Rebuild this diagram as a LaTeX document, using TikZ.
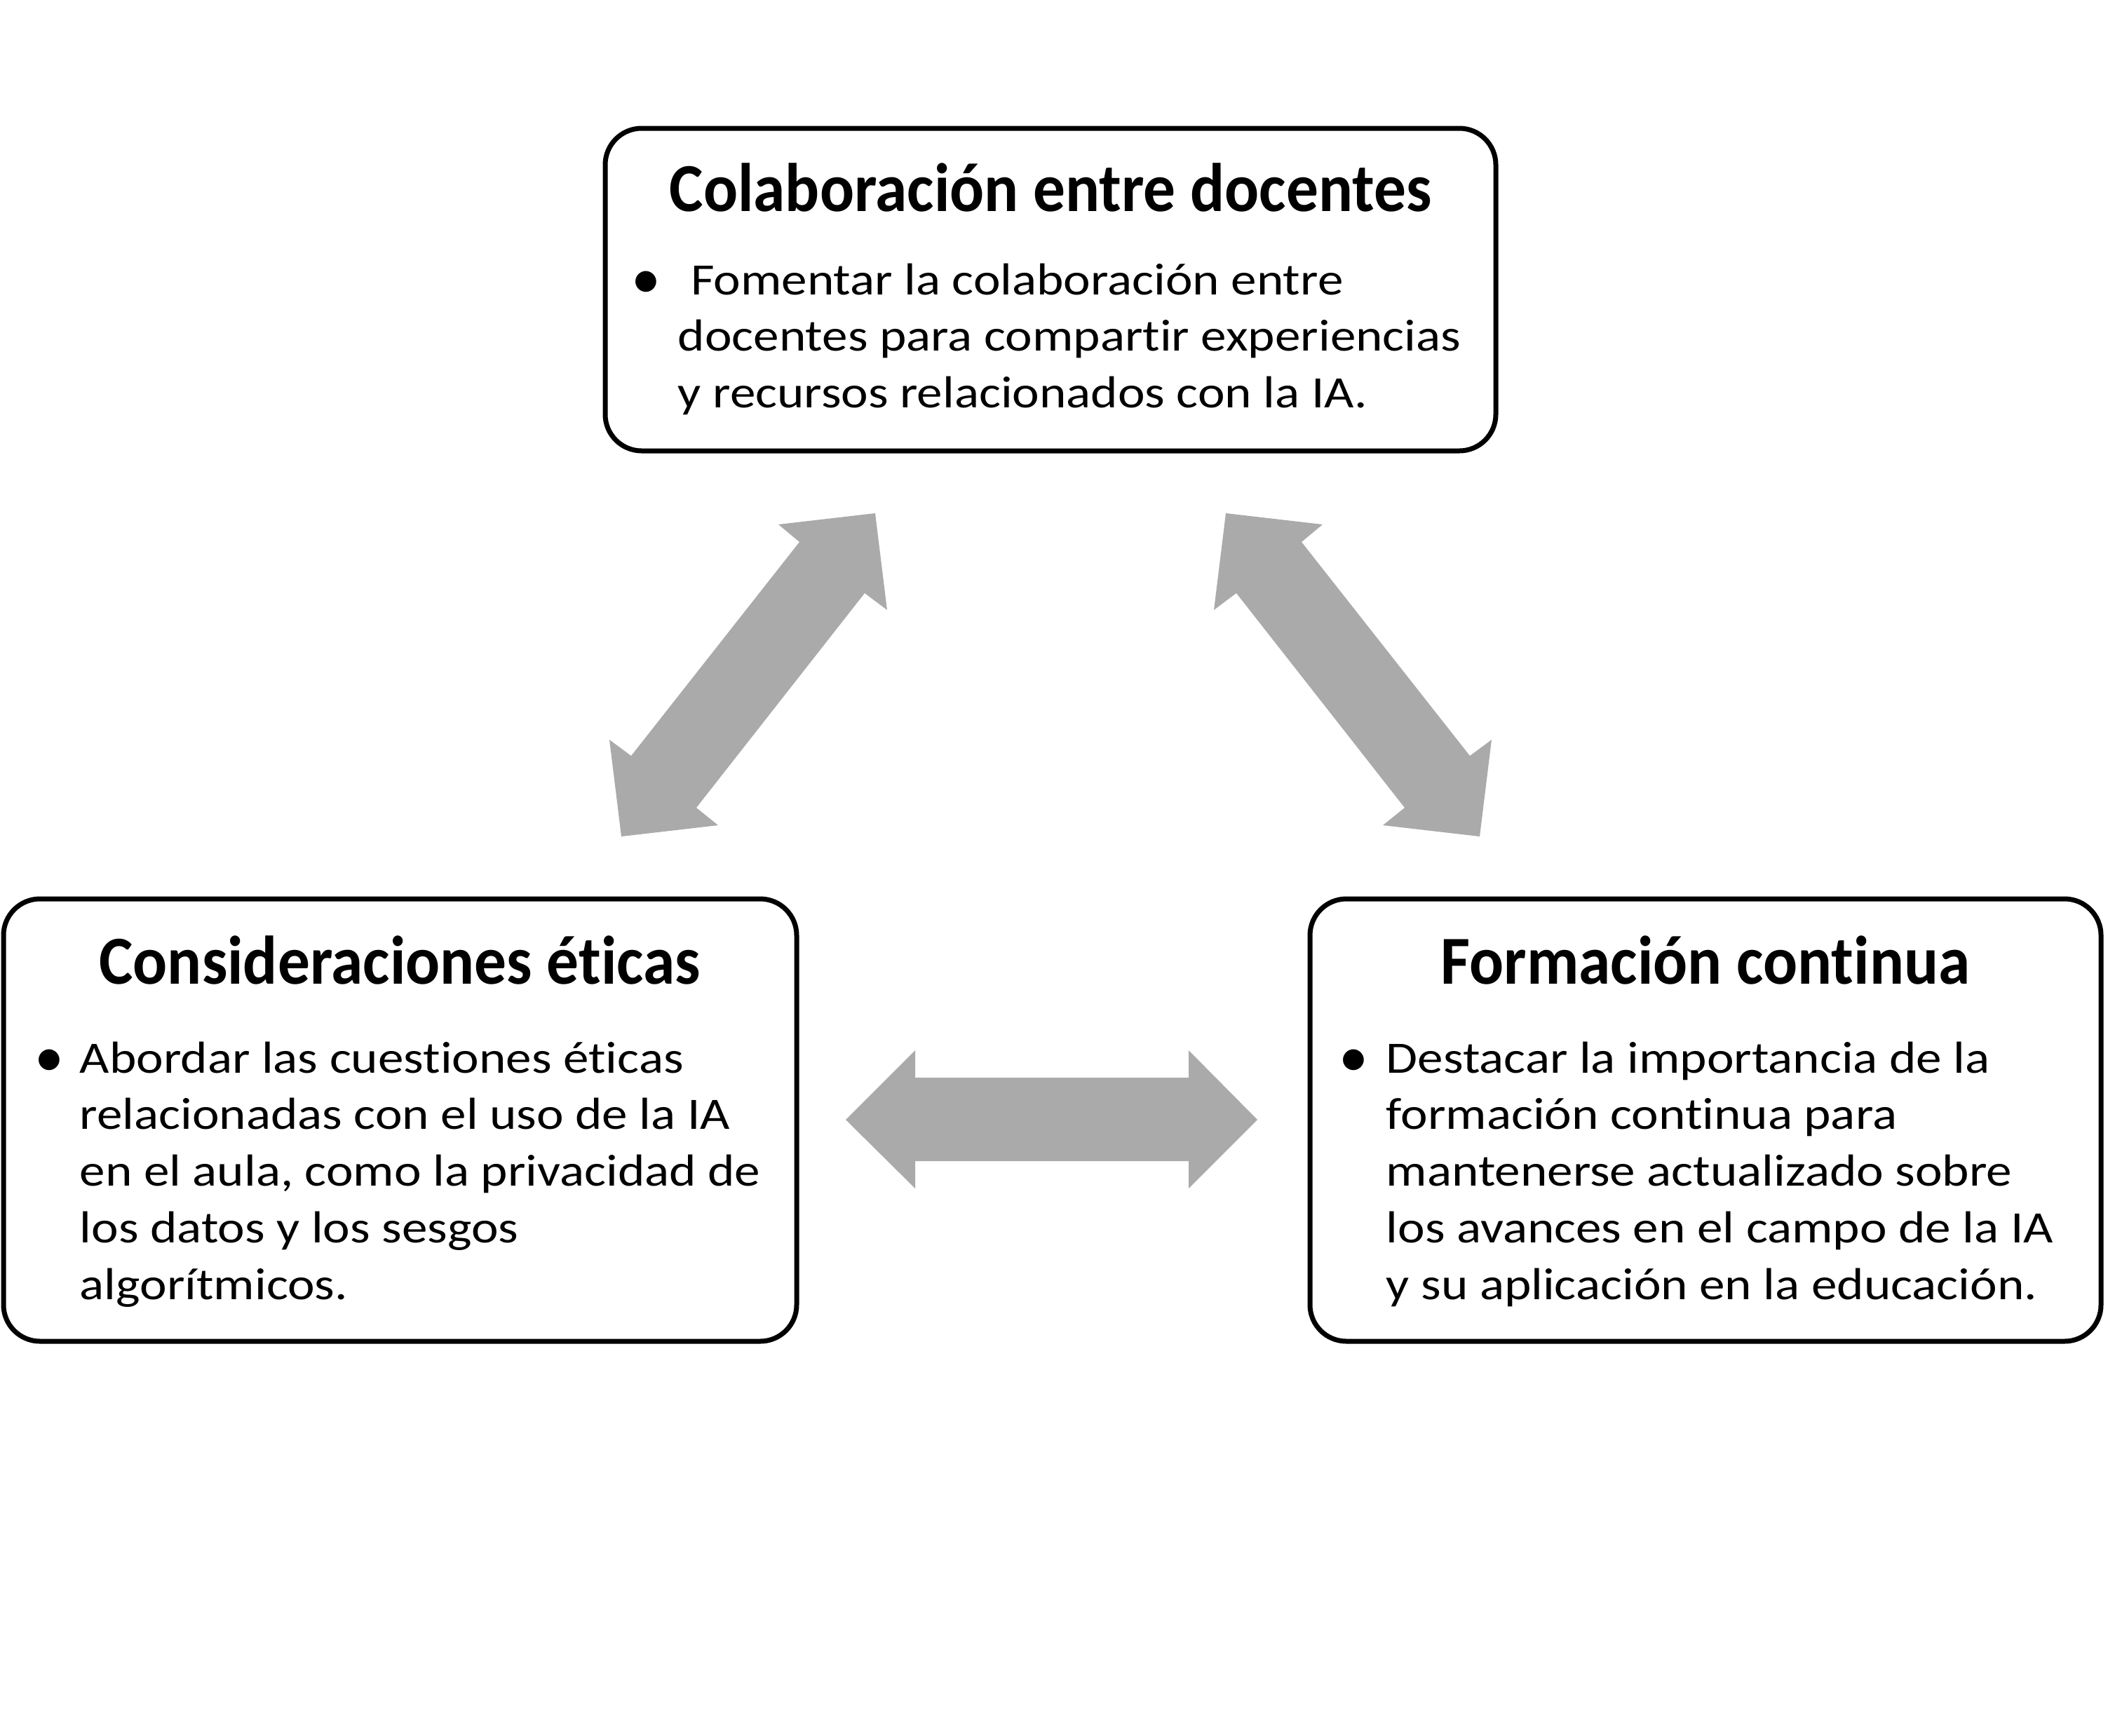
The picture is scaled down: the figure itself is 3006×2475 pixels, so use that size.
\documentclass[tikz,border=0pt]{standalone}
\usepackage{fontspec}
\setmainfont{Carlito}[Ligatures=NoCommon]
\definecolor{arrowgray}{RGB}{170,170,170}
\newcommand{\ttlbox}[1]{\scalebox{0.933}[1]{#1}}
\newcommand{\bodybox}[1]{\scalebox{1.143}[1]{#1}}
\tikzset{
  box/.style={draw=black, line width=1.75pt, rounded corners=13pt, inner sep=0pt, fill=white},
  ttl/.style={font=\fontsize{24.5}{29}\selectfont\bfseries, anchor=base, inner sep=0pt},
  bodytext/.style={font=\fontsize{16}{20.2}\selectfont, anchor=base west, inner sep=0pt},
  bul/.style={font=\fontsize{21}{24}\selectfont, anchor=base, inner sep=0pt},
  bigarrow/.style={fill=arrowgray, draw=none}
}
\begin{document}
\begin{tikzpicture}[x=0.25pt, y=-0.25pt]
\useasboundingbox (0,0) rectangle (3006,2475);

% boxes
\node[box, minimum width=317.5pt, minimum height=115pt] (topbox) at (1498,413) {};
\node[box, minimum width=282.75pt, minimum height=157.75pt] (leftbox) at (570.5,1597.5) {};
\node[box, minimum width=282pt, minimum height=157.75pt] (rightbox) at (2432,1597.5) {};

% top box text
\node[ttl] (toptitle) at (1498,301) {\ttlbox{Colaboración entre docentes}};
\node[bul] (topbul) at (921,425) {•};
\node[bodytext] (topbody) at (966,420) {\bodybox{\begin{tabular}[t]{@{}l@{}}
\hspace*{4pt}Fomentar la colaboración entre\\
docentes para compartir experiencias\\
y recursos relacionados con la IA.
\end{tabular}}};

% left box text
\node[ttl] (lefttitle) at (570,1403) {\ttlbox{Consideraciones éticas}};
\node[bul] (leftbul) at (70,1535) {•};
\node[bodytext] (leftbody) at (113,1530) {\bodybox{\begin{tabular}[t]{@{}l@{}}
Abordar las cuestiones éticas\\
relacionadas con el uso de la IA\\
en el aula, como la privacidad de\\
los datos y los sesgos\\
algorítmicos.
\end{tabular}}};

% right box text
\node[ttl] (righttitle) at (2432,1403) {\ttlbox{Formación continua}};
\node[bul] (rightbul) at (1930,1535) {•};
\node[bodytext] (rightbody) at (1976,1530) {\bodybox{\begin{tabular}[t]{@{}l@{}}
Destacar la importancia de la\\
formación continua para\\
mantenerse actualizado sobre\\
los avances en el campo de la IA\\
y su aplicación en la educación.
\end{tabular}}};

% arrows
\fill[bigarrow] (1248,732) -- (1110,748) -- (1140,773) -- (900,1078) -- (869,1055)
  -- (886,1193) -- (1024,1177) -- (993,1152) -- (1233,846) -- (1265,870) -- cycle;
\fill[bigarrow] (1748,732) -- (1886,748) -- (1856,773) -- (2096,1078) -- (2127,1055)
  -- (2110,1193) -- (1972,1177) -- (2003,1152) -- (1763,846) -- (1731,870) -- cycle;
\fill[bigarrow] (1206,1597) -- (1305,1498) -- (1305,1537) -- (1695,1537) -- (1695,1498)
  -- (1793,1597) -- (1695,1695) -- (1695,1656) -- (1305,1656) -- (1305,1695) -- cycle;
\end{tikzpicture}
\end{document}
